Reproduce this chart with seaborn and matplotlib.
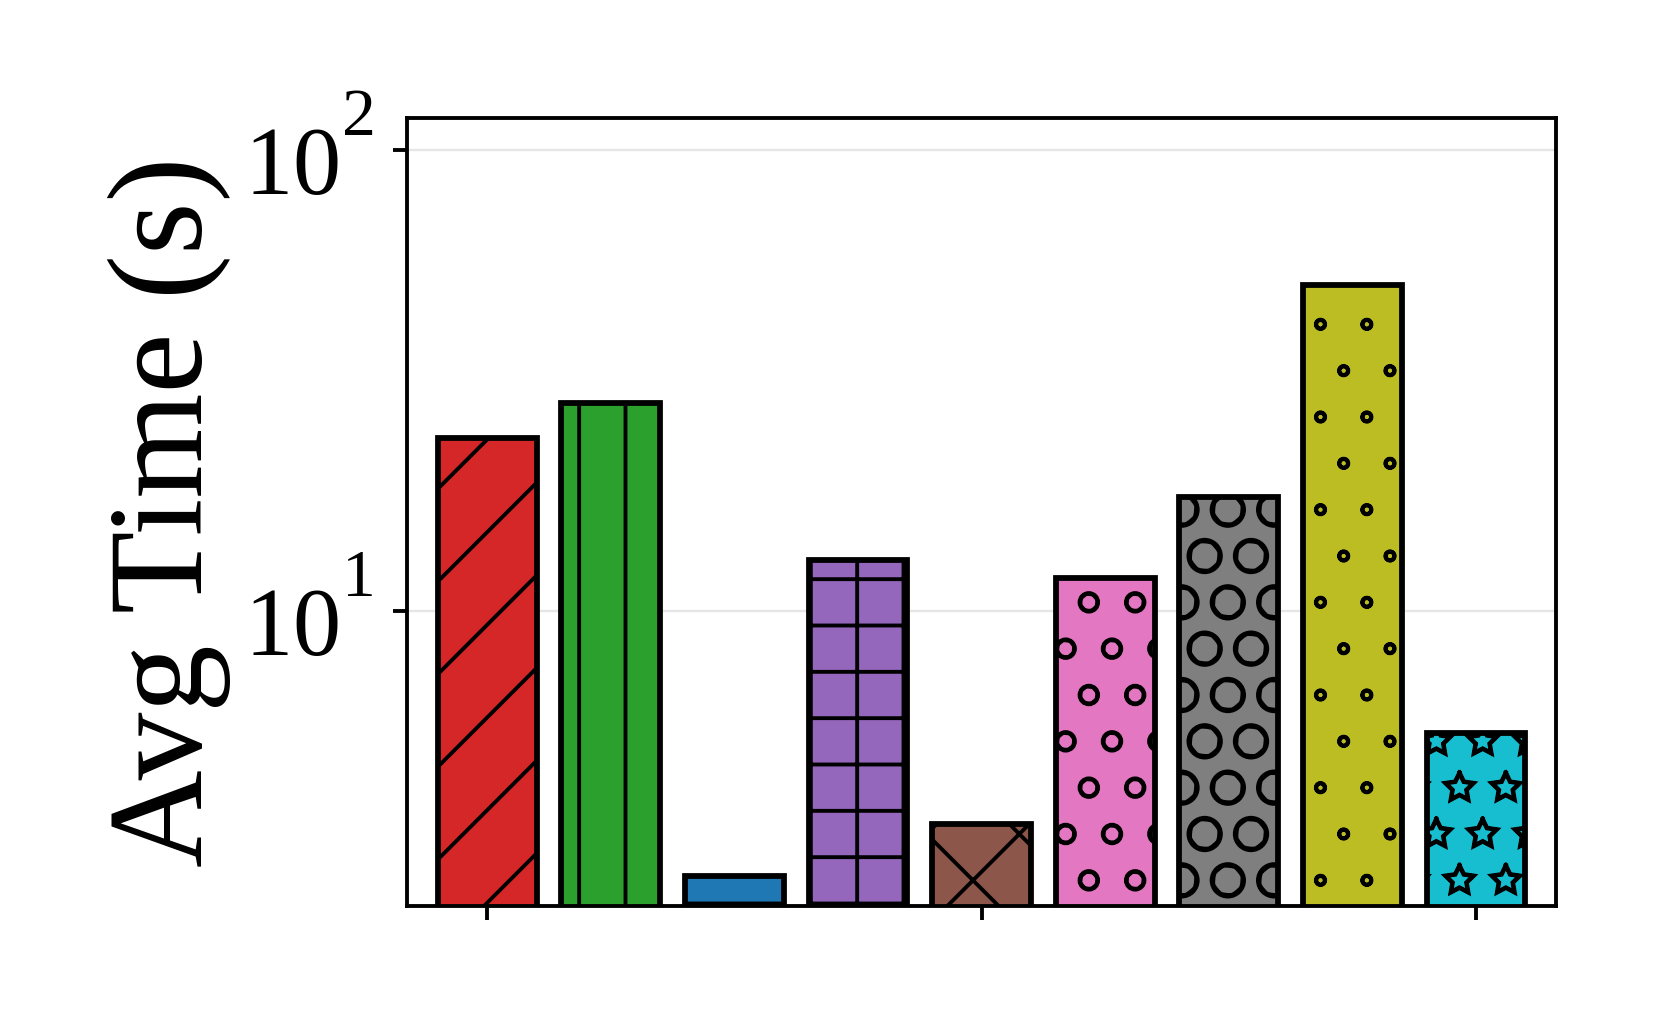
import matplotlib
matplotlib.use('Agg')
import matplotlib.pyplot as plt
import matplotlib.hatch
import matplotlib._mathtext as mathtext_internal
import seaborn as sns

# Average run time per method (seconds)
methods = ['M1', 'M2', 'M3', 'M4', 'M5', 'M6', 'M7', 'M8', 'M9']
avg_time = [23.8, 28.3, 2.67, 12.9, 3.46, 11.8, 17.7, 51.1, 5.45]
colors = ['tab:red', 'tab:green', 'tab:blue', 'tab:purple', 'tab:brown',
          'tab:pink', 'tab:gray', 'tab:olive', 'tab:cyan']
hatches = ['/', '|', '-', '+', 'x', 'o', 'O', '.', '*']

# the reference draws '.' and '*' as outlines, not filled shapes
matplotlib.hatch.SmallFilledCircles.filled = False
matplotlib.hatch.Stars.filled = False
# exponent sits higher above the "10" in the reference
mathtext_internal.FontConstantsBase.sup1 = 1.3
mathtext_internal.STIXFontConstants.sup1 = 1.3

sns.set_style('white')
plt.rcParams['font.family'] = 'serif'
plt.rcParams['font.serif'] = ['Liberation Serif', 'DejaVu Serif']
plt.rcParams['mathtext.fontset'] = 'stix'
plt.rcParams['hatch.linewidth'] = 1.0
plt.rcParams['text.color'] = 'black'
plt.rcParams['axes.labelcolor'] = 'black'
plt.rcParams['xtick.color'] = 'black'
plt.rcParams['ytick.color'] = 'black'

dpi = 278
fig, ax = plt.subplots(figsize=(1661 / dpi, 1024 / dpi), dpi=dpi)
fig.subplots_adjust(left=0.245, right=0.937, top=0.885, bottom=0.115)

ax.set_yscale('log')
sns.barplot(x=methods, y=avg_time, hue=methods, palette=colors, width=0.8,
            saturation=1, edgecolor='black', linewidth=1.5, legend=False, ax=ax)

# Apply hatch patterns
for patch, h in zip(ax.patches, hatches):
    patch.set_hatch(h)

ax.set_ylim(2.29, 117.7)
ax.set_xlim(-0.65, 8.65)
ax.set_xticks([0, 4, 8])
ax.set_xticklabels(['', '', ''])
ax.set_xlabel('')
ax.set_ylabel('Avg Time (s)', fontsize=35, labelpad=3.2)
ax.tick_params(axis='y', which='major', labelsize=25, length=3.5, width=1, pad=5.3,
               direction='out', left=True)
ax.tick_params(axis='y', which='minor', left=False)
ax.tick_params(axis='x', length=3.5, width=1, direction='out', bottom=True)

ax.grid(axis='y', which='major', color='#e6e6e6', linewidth=0.6)
ax.set_axisbelow(True)
for s in ax.spines.values():
    s.set_color('black')
    s.set_linewidth(1.0)

plt.savefig('out.png', dpi=dpi)
